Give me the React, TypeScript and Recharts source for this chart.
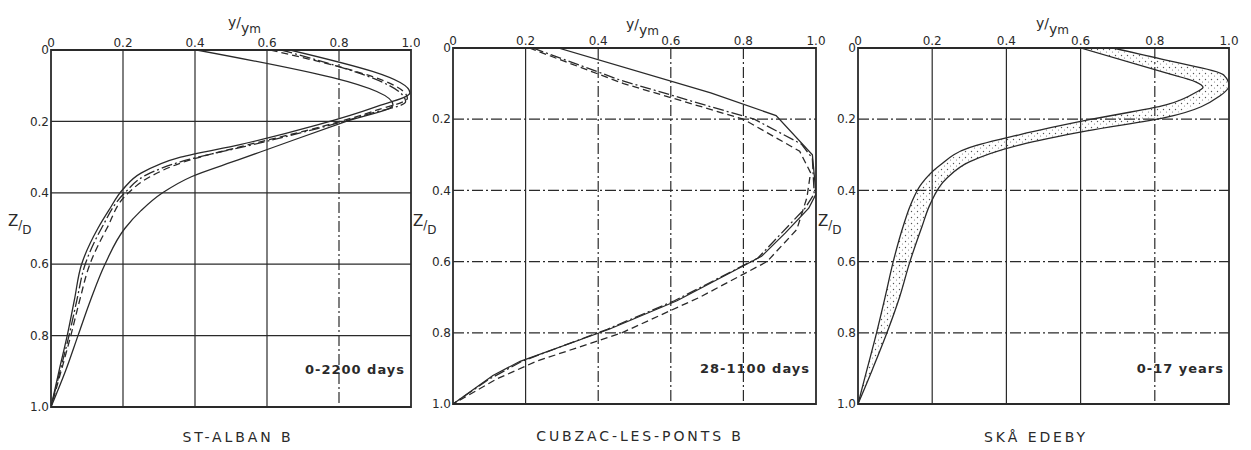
import React from 'react';
import { ScatterChart, Scatter, XAxis, YAxis, ReferenceLine, ReferenceArea } from 'recharts';

type P = [number, number]; // [z/D, y/ym]

const axisTicks = [0, 0.2, 0.4, 0.6, 0.8, 1.0];
const gridTicks = [0.2, 0.4, 0.6, 0.8];

const panelTitles = ['ST-ALBAN B', 'CUBZAC-LES-PONTS B', 'SKÅ EDEBY'];
const periodLabels = ['0-2200 days', '28-1100 days', '0-17 years'];

// ST-ALBAN B
const stAlbanSolidA: P[] = [[0, 0.405], [0.154, 0.95], [0.2, 0.82], [0.25, 0.68], [0.308, 0.52], [0.355, 0.39], [0.4, 0.31], [0.45, 0.25], [0.5, 0.205], [0.6, 0.15], [0.7, 0.11], [0.8, 0.075], [0.9, 0.04], [1.0, 0]];
const stAlbanSolidB: P[] = [[0, 0.664], [0.12, 0.997], [0.16, 0.9], [0.21, 0.74], [0.265, 0.525], [0.3, 0.36], [0.345, 0.25], [0.39, 0.2], [0.45, 0.16], [0.5, 0.13], [0.6, 0.085], [0.7, 0.065], [0.8, 0.045], [0.9, 0.022], [1.0, 0]];
const stAlbanDashed: P[] = [[0, 0.61], [0.135, 0.99], [0.17, 0.9], [0.215, 0.75], [0.27, 0.53], [0.31, 0.38], [0.355, 0.275], [0.4, 0.215], [0.5, 0.155], [0.6, 0.108], [0.7, 0.08], [0.8, 0.055], [0.9, 0.028], [1.0, 0]];
const stAlbanDashDot: P[] = [[0, 0.64], [0.145, 0.985], [0.18, 0.88], [0.22, 0.74], [0.27, 0.54], [0.31, 0.37], [0.35, 0.265], [0.4, 0.205], [0.5, 0.14], [0.6, 0.095], [0.7, 0.072], [0.8, 0.05], [0.9, 0.025], [1.0, 0]];

// CUBZAC-LES-PONTS B
const cubzacSolid: P[] = [[0, 0.29], [0.126, 0.71], [0.19, 0.89], [0.3, 0.99], [0.41, 1.0], [0.45, 0.98], [0.52, 0.915], [0.585, 0.85], [0.71, 0.617], [0.79, 0.43], [0.88, 0.185], [0.92, 0.11], [1.0, 0]];
const cubzacDashDot: P[] = [[0, 0.22], [0.09, 0.46], [0.165, 0.71], [0.2, 0.83], [0.27, 0.96], [0.31, 0.99], [0.41, 0.995], [0.45, 0.97], [0.52, 0.905], [0.59, 0.84], [0.71, 0.61], [0.79, 0.425], [0.88, 0.19], [0.93, 0.1], [1.0, 0]];
const cubzacDashed: P[] = [[0, 0.21], [0.1, 0.47], [0.2, 0.8], [0.29, 0.955], [0.35, 0.985], [0.42, 0.975], [0.51, 0.947], [0.6, 0.865], [0.7, 0.68], [0.8, 0.465], [0.88, 0.23], [0.93, 0.12], [1.0, 0]];

// SKÅ EDEBY (band edges)
const skaInner: P[] = [[0, 0.6], [0.07, 0.83], [0.095, 0.91], [0.11, 0.93], [0.125, 0.91], [0.16, 0.83], [0.2, 0.63], [0.243, 0.437], [0.28, 0.3], [0.33, 0.22], [0.38, 0.172], [0.44, 0.142], [0.5, 0.122], [0.6, 0.095], [0.7, 0.073], [0.8, 0.05], [0.9, 0.025], [1.0, 0]];
const skaOuter: P[] = [[0, 0.687], [0.034, 0.83], [0.075, 0.985], [0.105, 1.0], [0.135, 0.975], [0.195, 0.83], [0.233, 0.617], [0.272, 0.437], [0.32, 0.3], [0.365, 0.24], [0.44, 0.194], [0.5, 0.173], [0.6, 0.14], [0.7, 0.112], [0.8, 0.078], [0.9, 0.04], [1.0, 0]];

const INK = '#2a2a2a';
const FONT = '"DejaVu Sans", sans-serif';
const DASH = '7 4';
const DASHDOT = '11 3 2 3';

const toPts = (arr: P[]) => arr.map(([z, v]) => ({ x: v, y: z }));
const fmt = (v: number) => (v === 0 ? '0' : v.toFixed(1));
const noShape = () => <g />;

type Series = { data: P[]; dash?: string };

type PanelProps = {
  left: number;
  width: number;
  margin: { top: number; right: number; bottom: number; left: number };
  series: Series[];
  joint: 'linear' | 'monotoneY';
  vDash: (string | undefined)[];
  hDash: (string | undefined)[];
  band?: P[];
};

function Panel({ left, width, margin, series, joint, vDash, hDash, band }: PanelProps) {
  return (
    <div style={{ position: 'absolute', left, top: 0 }}>
      <ScatterChart width={width} height={450} margin={margin}>
        <XAxis
          type="number"
          dataKey="x"
          orientation="top"
          domain={[0, 1]}
          ticks={axisTicks}
          tickFormatter={fmt}
          axisLine={false}
          tickLine={false}
          tickSize={3}
          tickMargin={0}
          height={20}
          allowDataOverflow
          interval={0}
          tick={{ fill: INK, fontSize: 12, fontFamily: FONT }}
        />
        <YAxis
          type="number"
          dataKey="y"
          reversed
          domain={[0, 1]}
          ticks={axisTicks}
          tickFormatter={fmt}
          axisLine={false}
          tickLine={false}
          tickSize={2}
          tickMargin={0}
          width={30}
          allowDataOverflow
          interval={0}
          tick={{ fill: INK, fontSize: 12, fontFamily: FONT }}
        />
        {gridTicks.map((t, i) => (
          <ReferenceLine key={'v' + t} x={t} stroke={INK} strokeWidth={1.2} strokeDasharray={vDash[i]} />
        ))}
        {gridTicks.map((t, i) => (
          <ReferenceLine key={'h' + t} y={t} stroke={INK} strokeWidth={1.2} strokeDasharray={hDash[i]} />
        ))}
        <ReferenceArea x1={0} x2={1} y1={0} y2={1} fill="none" fillOpacity={0} stroke={INK} strokeWidth={1.8} />
        {band && (
          <Scatter
            data={toPts(band)}
            shape={noShape}
            line={{ stroke: 'none', fill: 'url(#stipple)' }}
            lineJointType="linearClosed"
            isAnimationActive={false}
          />
        )}
        {series.map((s, i) => (
          <Scatter
            key={i}
            data={toPts(s.data)}
            shape={noShape}
            line={{ stroke: INK, strokeWidth: 1.3, strokeDasharray: s.dash, fill: 'none' }}
            lineJointType={joint}
            isAnimationActive={false}
          />
        ))}
      </ScatterChart>
    </div>
  );
}

function YLabel({ x, y }: { x: number; y: number }) {
  return (
    <text x={x} y={y} fontSize={14} fill={INK} fontFamily={FONT}>
      <tspan>y/</tspan>
      <tspan dy={6}>y</tspan>
      <tspan fontSize={12}>m</tspan>
    </text>
  );
}

function ZLabel({ x, y }: { x: number; y: number }) {
  return (
    <text x={x} y={y} fontSize={15} fill={INK} fontFamily={FONT}>
      <tspan>Z</tspan>
      <tspan fontSize={12} dy={3}>/</tspan>
      <tspan fontSize={12} dy={5}>D</tspan>
    </text>
  );
}

export default function App() {
  const skaBand: P[] = [...skaInner, ...skaOuter.slice().reverse()];
  return (
    <div style={{ position: 'absolute', left: 0, top: 0, width: 1251, height: 450, background: '#fff', overflow: 'hidden' }}>
      <svg width={0} height={0} style={{ position: 'absolute' }}>
        <defs>
          <pattern id="stipple" width={6} height={6} patternUnits="userSpaceOnUse">
            <circle cx={1.5} cy={1.5} r={0.7} fill="#555" />
            <circle cx={4.5} cy={4} r={0.6} fill="#777" />
          </pattern>
        </defs>
      </svg>
      <Panel
        left={0}
        width={420}
        margin={{ top: 30, right: 9, bottom: 43, left: 21 }}
        joint="monotoneY"
        series={[
          { data: stAlbanSolidA },
          { data: stAlbanSolidB },
          { data: stAlbanDashed, dash: DASH },
          { data: stAlbanDashDot, dash: DASHDOT },
        ]}
        vDash={[undefined, undefined, undefined, DASHDOT]}
        hDash={[undefined, undefined, undefined, undefined]}
      />
      <Panel
        left={410}
        width={420}
        margin={{ top: 28, right: 14, bottom: 46, left: 13 }}
        joint="linear"
        series={[
          { data: cubzacSolid },
          { data: cubzacDashed, dash: DASH },
          { data: cubzacDashDot, dash: DASHDOT },
        ]}
        vDash={[undefined, DASHDOT, DASHDOT, DASHDOT]}
        hDash={[DASHDOT, DASHDOT, DASHDOT, DASHDOT]}
      />
      <Panel
        left={820}
        width={431}
        margin={{ top: 28, right: 22, bottom: 46, left: 8 }}
        joint="monotoneY"
        series={[{ data: skaInner }, { data: skaOuter }]}
        vDash={[undefined, undefined, undefined, DASHDOT]}
        hDash={[DASHDOT, DASHDOT, DASHDOT, DASHDOT]}
        band={skaBand}
      />
      <svg width={1251} height={450} style={{ position: 'absolute', left: 0, top: 0, pointerEvents: 'none' }}>
        <YLabel x={228} y={27} />
        <YLabel x={626} y={29} />
        <YLabel x={1036} y={28} />
        <ZLabel x={8} y={226} />
        <ZLabel x={413} y={226} />
        <ZLabel x={818} y={226} />
        <g fontFamily={FONT} fill={INK} fontSize={14} letterSpacing={2.9} textAnchor="middle">
          <text x={238} y={442}>{panelTitles[0]}</text>
          <text x={640} y={441}>{panelTitles[1]}</text>
          <text x={1036} y={442}>{panelTitles[2]}</text>
        </g>
        <g fontFamily={FONT} fill={INK} fontSize={13} fontWeight="bold" letterSpacing={1} textAnchor="end">
          <text x={405} y={374}>{periodLabels[0]}</text>
          <text x={810} y={373}>{periodLabels[1]}</text>
          <text x={1224} y={373}>{periodLabels[2]}</text>
        </g>
      </svg>
    </div>
  );
}
